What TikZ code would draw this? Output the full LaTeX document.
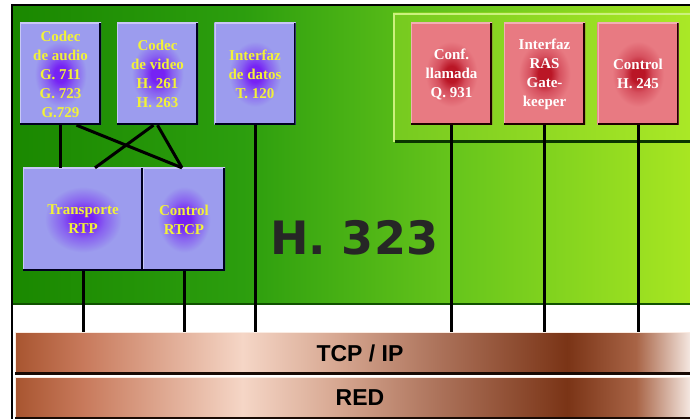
\documentclass[tikz,border=0pt]{standalone}
\usepackage{fontspec}
\setmainfont{Liberation Serif}
\newfontfamily\barfont{Liberation Sans}
\newfontfamily\titlefont{DejaVu Sans}
\usepackage{xcolor}

\definecolor{boxblue}{RGB}{156,156,238}
\definecolor{midblue}{RGB}{136,96,240}
\definecolor{glowblue}{RGB}{118,34,244}
\definecolor{boxred}{RGB}{232,122,130}
\definecolor{midred}{RGB}{214,80,94}
\definecolor{glowred}{RGB}{186,22,38}
\definecolor{textyellow}{RGB}{242,242,56}
\definecolor{greenA}{RGB}{26,136,0}
\definecolor{greenB}{RGB}{44,158,14}
\definecolor{greenC}{RGB}{104,198,28}
\definecolor{greenD}{RGB}{168,230,34}
\definecolor{panelA}{RGB}{118,202,32}
\definecolor{panelB}{RGB}{170,232,38}
\definecolor{copA}{RGB}{168,85,48}
\definecolor{copB}{RGB}{200,122,92}
\definecolor{copC}{RGB}{245,214,198}
\definecolor{copD}{RGB}{214,166,144}
\definecolor{copE}{RGB}{170,112,88}
\definecolor{copF}{RGB}{122,52,22}
\definecolor{copG}{RGB}{168,100,70}
\definecolor{copH}{RGB}{246,234,228}

% visible part of a shading is 25bp..75bp
\pgfdeclareradialshading{blueglow}{\pgfpoint{0bp}{0bp}}{color(0bp)=(glowblue); color(4bp)=(glowblue); color(9bp)=(midblue); color(16bp)=(boxblue); color(50bp)=(boxblue)}
\pgfdeclareradialshading{redglow}{\pgfpoint{0bp}{0bp}}{color(0bp)=(glowred); color(4bp)=(glowred); color(9bp)=(midred); color(16bp)=(boxred); color(50bp)=(boxred)}
\pgfdeclarehorizontalshading{greenbg}{100bp}{color(0bp)=(greenA); color(25bp)=(greenA); color(42bp)=(greenB); color(58bp)=(greenC); color(75bp)=(greenD); color(100bp)=(greenD)}
\pgfdeclarehorizontalshading{greenpanel}{100bp}{color(0bp)=(panelA); color(25bp)=(panelA); color(75bp)=(panelB); color(100bp)=(panelB)}
\pgfdeclarehorizontalshading{copper}{100bp}{color(0bp)=(copA); color(25bp)=(copA); color(30bp)=(copB); color(41.5bp)=(copC); color(48.5bp)=(copD); color(56bp)=(copE); color(65bp)=(copF); color(70bp)=(copG); color(74bp)=(copH); color(100bp)=(copH)}

\begin{document}
\begin{tikzpicture}[x=1pt, y=-1pt,
    boxedge/.style 2 args={path picture={
        \draw[#1, line width=2.5pt] (path picture bounding box.south west) -- (path picture bounding box.north west) -- (path picture bounding box.north east);
        \draw[#2, line width=4pt] (path picture bounding box.north east) -- (path picture bounding box.south east) -- (path picture bounding box.south west);}},
    bluebox/.style={rectangle, inner sep=0pt, minimum width=81pt, minimum height=102pt, shading=blueglow, boxedge={white!45!boxblue}{black!70!blue!40!black}, text=textyellow},
    redbox/.style={rectangle, inner sep=0pt, minimum width=81pt, minimum height=102pt, shading=redglow, boxedge={white!40!boxred}{black!60!red!30!black}, text=white},
    bar/.style={rectangle, inner sep=0pt, minimum width=690pt, minimum height=42pt, shading=copper, boxedge={white!50!copC}{black!80!copF}, font=\barfont\bfseries\fontsize{23}{23}\selectfont},
    wire/.style={line width=3pt, black},
    every node/.style={align=center, font=\fontsize{15}{19}\selectfont\bfseries}
]
\useasboundingbox (0,0) rectangle (690,419);

% Background
\fill[white] (0,0) rectangle (690,419);
\shade[shading=greenbg] (13,6) rectangle (690,305);
\draw[greenA!60!black, line width=2pt] (13,304) -- (690,304);
\shade[shading=greenpanel] (393,13) rectangle (690,142);
\draw[panelB!60!white, line width=2pt] (394,142) -- (394,14) -- (690,14);
\draw[black!60!greenA, line width=3pt] (395,142) -- (690,142);
\draw[black, line width=2pt] (12,419) -- (12,5) -- (690,5);

% Media components
\node[bluebox] (audio) at (60.5,74) {Codec\\de audio\\G. 711\\G. 723\\G.729};
\node[bluebox] (video) at (157.5,74) {Codec\\de video\\H. 261\\H. 263};
\node[bluebox] (datos) at (255,74) {Interfaz\\de datos\\T. 120};
\node[bluebox, minimum width=120pt, minimum height=103pt] (rtp) at (83,219.5) {Transporte\\RTP};
\node[bluebox, minimum width=82pt, minimum height=103pt] (rtcp) at (184,219.5) {Control\\RTCP};

% Control components
\node[redbox] (conf) at (451.5,74) {Conf.\\llamada\\Q. 931};
\node[redbox] (ras) at (544.5,74) {Interfaz\\RAS\\Gate-\\keeper};
\node[redbox] (h245) at (638,74) {Control\\H. 245};

% Network layers
\node[bar] (tcp) at (360,353) {TCP / IP};
\node[bar] (red) at (360,398) {RED};

% Title
\node[font=\titlefont\bfseries\fontsize{46}{46}\selectfont, text=black!85] (title) at (354,238) {H. 323};

% Connections
\draw[wire] (audio.south) -- (audio.south |- rtp.north);
\draw[wire] ([xshift=16pt]audio.south) -- ([xshift=-2pt]rtcp.north);
\draw[wire] ([xshift=-4pt]video.south) -- ([xshift=12pt]rtp.north);
\draw[wire] (video.south) -- ([xshift=-2pt]rtcp.north);
\draw[wire] (rtp.south) -- (rtp.south |- tcp.north);
\draw[wire] (rtcp.south) -- (rtcp.south |- tcp.north);
\draw[wire] (datos.south) -- (datos.south |- tcp.north);
\draw[wire] (conf.south) -- (conf.south |- tcp.north);
\draw[wire] (ras.south) -- (ras.south |- tcp.north);
\draw[wire] (h245.south) -- (h245.south |- tcp.north);

\end{tikzpicture}
\end{document}
